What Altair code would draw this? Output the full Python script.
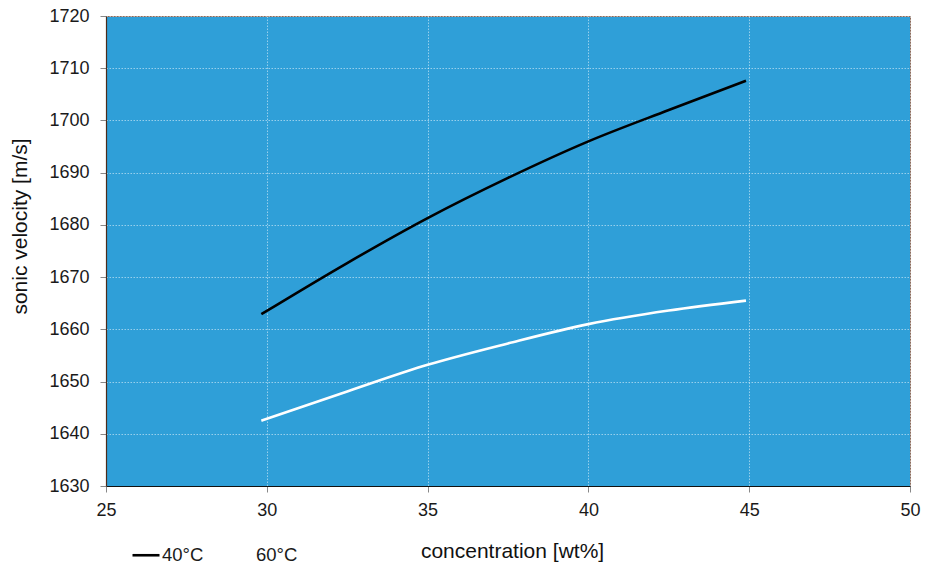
import pandas as pd
import altair as alt

# concentration [wt%] where the curves were read
conc = [29.83, 32.5, 35.0, 37.5, 40.0, 42.5, 44.9]
# sonic velocity [m/s]
v40 = [1662.9, 1672.7, 1681.3, 1689.0, 1696.0, 1702.0, 1707.6]
v60 = [1642.5, 1648.1, 1653.2, 1657.3, 1661.0, 1663.6, 1665.5]
series = ["40°C", "60°C"]
x_ticks = [25, 30, 35, 40, 45, 50]
y_ticks = list(range(1630, 1721, 10))

df = pd.concat(
    [
        pd.DataFrame({"conc": conc, "v": v40, "temp": series[0]}),
        pd.DataFrame({"conc": conc, "v": v60, "temp": series[1]}),
    ]
)

font = "Liberation Sans"

chart = (
    alt.Chart(df)
    .mark_line(strokeWidth=2.6, interpolate="monotone")
    .encode(
        x=alt.X(
            "conc:Q",
            scale=alt.Scale(domain=[25, 50], nice=False, zero=False),
            axis=alt.Axis(
                title="concentration [wt%]",
                values=x_ticks,
                format="d",
                labelFlush=False,
                titleX=406,
                titleY=65,
                titleBaseline="middle",
                titleAlign="center",
                labelPadding=9,
                domainColor="#111111",
            ),
        ),
        y=alt.Y(
            "v:Q",
            scale=alt.Scale(domain=[1630, 1720], nice=False, zero=False),
            axis=alt.Axis(
                title="sonic velocity [m/s]",
                values=y_ticks,
                format="d",
                labelFlush=False,
                titleX=-86,
                titleY=210,
                titleBaseline="middle",
                titleAlign="center",
                titleAngle=-90,
                labelPadding=11,
                domainColor="#4b2c1c",
            ),
        ),
        color=alt.Color(
            "temp:N",
            scale=alt.Scale(domain=series, range=["#000000", "#ffffff"]),
            legend=alt.Legend(
                title=None,
                orient="none",
                direction="horizontal",
                legendX=25,
                legendY=524,
                symbolType="stroke",
                symbolSize=729,
                symbolStrokeWidth=2.6,
                labelOffset=1,
                columnPadding=17,
                labelFontSize=18.5,
                labelFont=font,
                labelColor="#1a1a1a",
            ),
        ),
    )
    .properties(
        width=804,
        height=470,
        autosize=alt.AutoSizeParams(type="none"),
        padding={"left": 98, "top": 8, "right": 16, "bottom": 78},
    )
    .configure_view(fill="#2f9fd8", stroke="#8a6b5c", strokeWidth=1)
    .configure_axis(
        labelFont=font,
        titleFont=font,
        labelFontSize=18,
        titleFontSize=21,
        titleFontWeight="normal",
        labelColor="#1a1a1a",
        titleColor="#111111",
        tickColor="#888888",
        tickSize=6,
        domainWidth=1.2,
        gridColor="#ffffff",
        gridOpacity=0.5,
        gridDash=[1.5, 1.5],
        gridWidth=1,
    )
)

chart.save("out.html", embed_options={"renderer": "svg", "actions": False})
